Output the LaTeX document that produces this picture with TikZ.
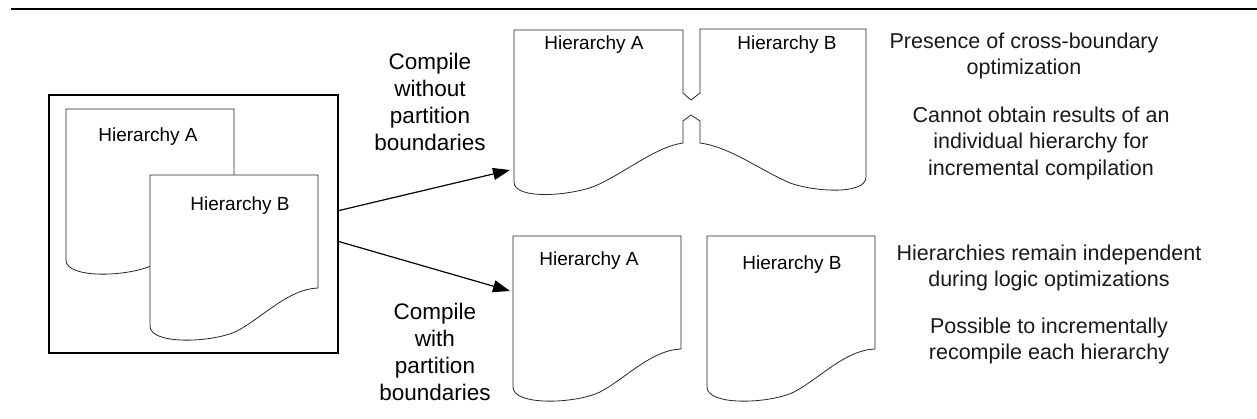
\documentclass[tikz,border=0pt]{standalone}
\usepackage{fontspec}
\setmainfont{Liberation Sans}
\usetikzlibrary{arrows.meta}

\begin{document}
\begin{tikzpicture}[x=1pt,y=-1pt,
  page/.style={draw=black!85, line width=0.8pt, fill=white},
  doctext/.style={font=\fontsize{19}{23}\selectfont, inner sep=0pt},
  steplabel/.style={font=\fontsize{22.5}{27}\selectfont, align=center, inner sep=0pt},
  sidenote/.style={font=\fontsize{21.5}{26.5}\selectfont, align=center, inner sep=0pt, text=black!90},
  flow/.style={line width=1.2pt, -{Triangle[length=17pt,width=12pt]}},
  sheet/.pic={\draw[page] (0,0) -- (168,0) -- (168,113)
      .. controls (138,114) and (112,143) .. (87,156)
      .. controls (62,168) and (0,170) .. (0,151) -- cycle;}
]
\useasboundingbox (0,0) rectangle (1257,419);

% header rule
\draw[line width=1.6pt] (11,9) -- (1257,9);

% source design with two hierarchies
\node[draw, line width=2pt, minimum width=289pt, minimum height=258pt,
      inner sep=0pt, anchor=north west] (src) at (48,94) {};
\pic at (66,109) {sheet};
\pic at (150,175) {sheet};
\node[doctext] (srcA) at (148,137) {Hierarchy A};
\node[doctext] (srcB) at (240,206) {Hierarchy B};

% merged result: hierarchies fused across the boundary
\draw[page] (514,30) -- (683,30) -- (683,93) -- (691,100) -- (700,93)
  -- (700,29) -- (866,29) -- (866,177)
  .. controls (866,195) and (815,192) .. (790,183)
  .. controls (760,170) and (730,147) .. (700,143)
  -- (700,121) -- (691,115) -- (683,121) -- (683,143)
  .. controls (655,147) and (625,173) .. (595,186)
  .. controls (570,196) and (514,200) .. (514,182) -- cycle;
\node[doctext] (topA) at (594,45) {Hierarchy A};
\node[doctext] (topB) at (787,45) {Hierarchy B};

% partitioned result: independent hierarchies
\pic at (513,236) {sheet};
\pic at (707,236) {sheet};
\node[doctext] (lowA) at (589,261) {Hierarchy A};
\node[doctext] (lowB) at (792,265) {Hierarchy B};

% flows
\coordinate (s1) at (337,211);
\coordinate (t1) at (510,170);
\coordinate (s2) at (337,241);
\coordinate (t2) at (510,291);
\draw[flow] (s1) -- (t1);
\draw[flow] (s2) -- (t2);

\node[steplabel] (lblA) at (430,102) {Compile\\without\\partition\\boundaries};
\node[steplabel] (lblB) at (435,352) {Compile\\with\\partition\\boundaries};

% outcomes
\node[sidenote] (n1) at (1024,56) {Presence of cross-boundary\\optimization};
\node[sidenote] (n2) at (1041,143) {Cannot obtain results of an\\individual hierarchy for\\incremental compilation};
\node[sidenote] (n3) at (1049,268) {Hierarchies remain independent\\during logic optimizations};
\node[sidenote] (n4) at (1049,341) {Possible to incrementally\\recompile each hierarchy};
\end{tikzpicture}
\end{document}
